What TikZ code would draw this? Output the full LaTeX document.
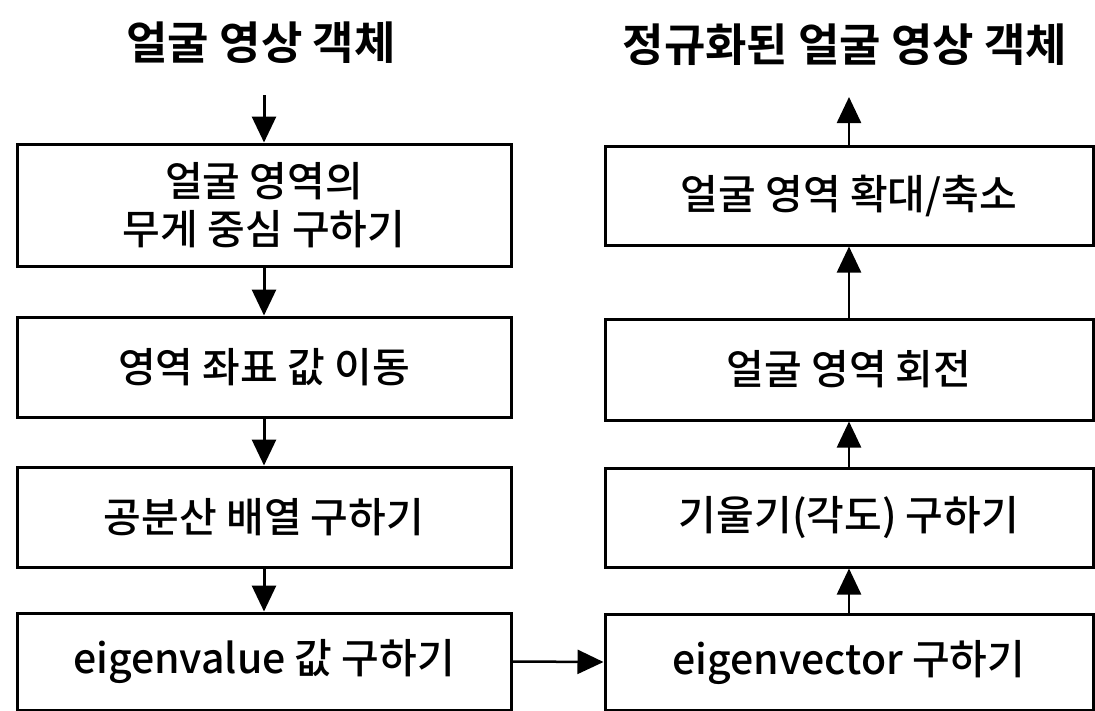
\documentclass[tikz,border=0pt]{standalone}
\usepackage{fontspec}
\newfontfamily\kr{Noto Sans CJK KR Medium}
\newfontfamily\krb{Noto Sans CJK KR Bold}
\usetikzlibrary{arrows.meta}
\begin{document}
\begin{tikzpicture}[x=1pt,y=-1pt,
  box/.style={draw, line width=3pt, inner sep=0pt, align=center,
    font=\kr\fontsize{41}{48}\selectfont},
  lbox/.style={box, minimum width=494pt},
  rbox/.style={box, minimum width=488pt},
  ttl/.style={font=\krb\fontsize{45}{50}\selectfont, inner sep=0pt},
  flow/.style={line width=3pt, -{Triangle[width=24pt,length=26pt]}},
  rflow/.style={line width=2.5pt, -{Triangle[width=24pt,length=26pt]}}]
\useasboundingbox (0,0) rectangle (1095,710);
\fill[white] (0,0) rectangle (1095,710);
% titles
\node[ttl] (tin) at (261,43) {얼굴 영상 객체};
\node[ttl] (tout) at (845,45) {정규화된 얼굴 영상 객체};
\coordinate (ain) at (264,95);
\coordinate (aout) at (849,97);
% left column
\node[lbox, minimum height=122pt] (L1) at (264,205) {얼굴 영역의\\무게 중심 구하기};
\node[lbox, minimum height=100pt] (L2) at (264,367) {영역 좌표 값 이동};
\node[lbox, minimum height=100pt] (L3) at (264,517) {공분산 배열 구하기};
\node[lbox, minimum height=97pt] (L4) at (264,661.5) {eigenvalue 값 구하기};
% right column
\node[rbox, minimum height=99pt] (R1) at (849,195.5) {얼굴 영역 확대/축소};
\node[rbox, minimum height=101pt] (R2) at (849,369.5) {얼굴 영역 회전};
\node[rbox, minimum height=99pt] (R3) at (849,517.5) {기울기(각도) 구하기};
\node[rbox, minimum height=96pt] (R4) at (849,662) {eigenvector 구하기};
% connectors
\draw[flow] (ain) -- (L1);
\draw[flow] (L1) -- (L2);
\draw[flow] (L2) -- (L3);
\draw[flow] (L3) -- (L4);
\draw[rflow] (L4.east) -- (R4.west);
\draw[rflow] (R4) -- (R3);
\draw[rflow] (R3) -- (R2);
\draw[rflow] (R2) -- (R1);
\draw[rflow] (R1) -- (aout);
\end{tikzpicture}
\end{document}
